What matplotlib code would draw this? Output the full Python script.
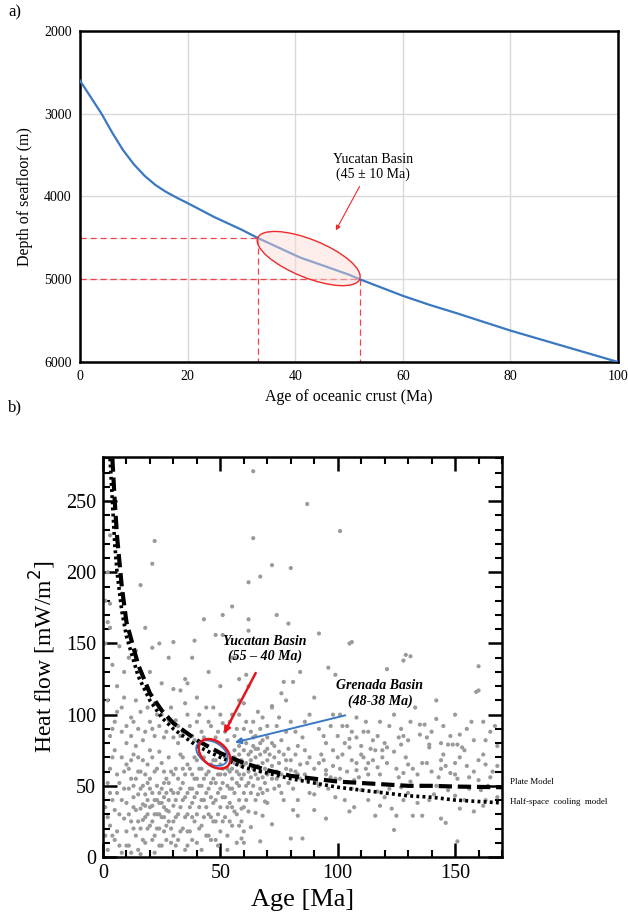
import numpy as np
import matplotlib
matplotlib.use("Agg")
import matplotlib.pyplot as plt
from matplotlib.patches import Ellipse
from matplotlib.transforms import ScaledTranslation
from matplotlib.ticker import MultipleLocator

plt.rcParams['font.family'] = ['Liberation Serif', 'DejaVu Serif']

# ---- panel a: depth vs age ----
depth_age = [0, 2, 4, 6, 8, 10, 12, 14, 16, 18, 20, 25, 30, 33, 37, 41, 45, 50, 52, 56, 60,
             65, 70, 80, 90, 100]
depth_m = [2600, 2800, 3000, 3230, 3440, 3610, 3750, 3860, 3945, 4015, 4080, 4250, 4400, 4500,
           4620, 4740, 4830, 4945, 5000, 5100, 5200, 5310, 5410, 5620, 5810, 6000]
yuc_age = [33, 52]
yuc_depth = [4500, 5000]

# ---- panel b: heat flow vs age ----
hsc_age = [3, 4, 5, 6, 8, 10, 15, 20, 25, 30, 40, 50, 60, 70, 80, 90, 100, 110, 120, 130, 140, 150, 160, 170]
hsc_q = [280, 250, 220, 200, 173, 155, 127, 110, 98, 90, 78, 70, 63, 59, 55, 52, 49, 47, 45, 43, 42, 40, 39, 38]
plate_age = [4, 5, 6, 8, 10, 15, 20, 25, 30, 40, 50, 60, 70, 80, 90, 100, 110, 120, 130, 140, 150, 170]
plate_q = [280, 250, 225, 190, 165, 135, 115, 103, 94, 82, 73, 66, 61, 57, 55, 53, 52, 51, 50, 50, 49.5, 49]

pts_low = [(2, 5), (3, 22), (4, 40), (5, 12), (6, 58), (7, 30), (8, 3), (8, 70), (9, 48), (10, 18),
           (3, 62), (5, 75), (1, 35), (7, 8), (9, 27), (6, 45), (2, 52), (4, 15), (10, 65), (10, 38),
           (11, 8), (12, 25), (12, 55), (13, 42), (13, 72), (14, 15), (14, 33), (15, 60), (15, 5),
           (16, 48), (16, 20), (17, 37), (17, 68), (18, 28), (18, 10), (19, 52), (19, 40), (20, 22),
           (20, 75), (11, 62), (12, 3), (14, 78), (18, 58), (20, 35), (16, 2), (21, 12), (21, 45),
           (22, 30), (22, 60), (23, 20), (23, 50), (24, 38), (24, 8), (25, 28), (25, 66), (26, 42),
           (26, 18), (27, 55), (27, 33), (28, 25), (28, 70), (29, 10), (29, 47), (30, 36), (30, 58),
           (22, 3), (24, 74), (26, 52), (28, 40), (30, 15), (23, 40), (25, 48), (27, 22), (19, 30),
           (21, 36), (17, 26), (15, 44), (13, 50), (24, 30), (26, 35), (20, 48), (18, 44), (16, 34)]
pts_mid = [(31, 28), (31, 62), (32, 45), (32, 12), (33, 35), (33, 72), (34, 20), (34, 52), (35, 42),
           (35, 5), (36, 65), (36, 30), (37, 48), (37, 18), (38, 58), (38, 38), (39, 25), (39, 70),
           (40, 45), (40, 10), (32, 80), (34, 62), (36, 8), (38, 28), (40, 55), (41, 35), (41, 62),
           (42, 22), (42, 50), (43, 70), (43, 40), (44, 15), (44, 58), (45, 30), (45, 48), (46, 65),
           (46, 12), (47, 38), (47, 55), (48, 25), (48, 68), (49, 45), (49, 8), (50, 35), (50, 58),
           (42, 5), (44, 78), (46, 28), (48, 52), (50, 18), (51, 42), (51, 62), (52, 28), (52, 70),
           (53, 50), (53, 15), (54, 38), (54, 60), (55, 22), (55, 48), (56, 66), (56, 32), (57, 52),
           (57, 10), (58, 40), (58, 58), (59, 25), (59, 68), (60, 45), (60, 18), (53, 5), (56, 75)]
pts_high = [(3, 85), (5, 95), (2, 110), (6, 120), (4, 135), (8, 88), (8, 105), (10, 92), (12, 98),
            (12, 85), (14, 110), (15, 90), (16, 102), (18, 88), (18, 118), (20, 95), (22, 85),
            (22, 108), (24, 92), (25, 100), (27, 88), (28, 96), (30, 84), (32, 92), (34, 88),
            (36, 100), (38, 85), (40, 95), (42, 88), (44, 105), (46, 92), (48, 84), (50, 100),
            (52, 88), (54, 95), (56, 85), (58, 110), (60, 90), (9, 130), (11, 140), (20, 130),
            (25, 122), (30, 118), (35, 125), (40, 112), (45, 130), (50, 120), (55, 140), (58, 125),
            (38, 140), (7, 148), (14, 145), (28, 140), (33, 117), (36, 122),
            (1, 180), (2, 200), (1, 150), (2, 165), (3, 161), (3, 178), (3, 226), (8, 185),
            (56, 140), (61, 128), (62, 120), (66, 102), (68, 98), (70, 92), (72, 106), (75, 98),
            (63, 88), (65, 85), (68, 82), (72, 80), (78, 88), (80, 95), (85, 84), (88, 100),
            (92, 90), (95, 80), (98, 100), (100, 85), (102, 92), (106, 88), (110, 78), (112, 95),
            (115, 82), (60, 108), (58, 100), (64, 95), (76, 115), (84, 130), (90, 112),
            (77, 123), (81, 123), (78, 110), (72, 105), (99, 128), (105, 150)]
pts_outlier = [(64, 271), (87, 248), (101, 229), (22, 222), (64, 224), (21, 206), (72, 205),
               (80, 203), (67, 197), (62, 193), (16, 191), (55, 176), (51, 170), (74, 170),
               (43, 167), (62, 167), (79, 164), (18, 161), (62, 159), (92, 157), (48, 156),
               (51, 156), (106, 151), (39, 152), (30, 151), (24, 150), (21, 147),
               (129, 142), (131, 141), (128, 138), (160, 134), (96, 133), (121, 132), (160, 117)]
pts_dense = [(55, 62), (56, 70), (57, 60), (58, 72), (59, 64), (60, 58), (60, 75), (61, 66), (62, 60),
             (62, 72), (63, 56), (63, 68), (64, 62), (64, 78), (65, 58), (65, 70), (66, 64), (66, 76),
             (67, 60), (67, 72), (68, 66), (68, 56), (69, 74), (69, 62), (70, 68), (70, 58), (71, 72),
             (72, 64), (72, 55), (73, 70), (74, 60), (75, 66), (76, 58), (77, 72), (78, 62), (80, 68),
             (82, 60), (84, 65), (86, 58), (88, 70), (90, 62), (92, 66), (95, 58), (98, 64), (100, 70),
             (104, 60), (108, 66), (112, 62), (115, 68), (59, 34), (63, 21), (59, 13), (60, 10),
             (67, 11), (72, 23), (65, 31), (68, 29), (69, 39), (66, 44), (70, 47), (75, 50), (77, 40),
             (80, 13), (81, 33), (83, 29), (83, 40), (85, 13), (90, 33), (90, 44), (95, 27), (99, 42),
             (103, 40), (105, 32), (107, 35), (107, 54), (110, 47), (113, 40), (99, 55), (95, 61),
             (91, 52), (87, 54), (83, 58), (80, 61), (78, 68), (82, 72), (86, 75), (93, 72), (98, 75),
             (102, 72), (105, 77), (111, 70), (108, 61), (113, 58)]
pts_old = [(116, 75), (139, 77), (144, 68), (144, 62), (152, 70), (162, 72), (163, 65), (166, 60),
           (117, 63), (125, 62), (128, 59), (132, 62), (136, 66), (140, 60), (148, 59), (151, 55),
           (156, 56), (160, 54), (117, 46), (122, 48), (127, 49), (131, 53), (136, 50), (142, 50),
           (147, 47), (156, 48), (161, 47), (164, 50), (118, 36), (123, 34), (128, 40), (132, 29),
           (136, 29), (139, 40), (144, 27), (146, 24), (152, 34), (158, 32), (116, 29), (125, 29),
           (124, 19), (151, 11), (163, 40), (142, 97), (135, 93), (137, 93), (128, 85), (135, 86),
           (127, 79), (139, 79), (147, 79), (151, 79), (121, 77), (101, 100), (104, 92), (108, 98),
           (113, 88), (118, 95), (120, 80), (124, 100), (127, 90), (130, 82), (133, 105), (140, 88),
           (142, 110), (145, 92), (148, 85), (150, 100), (155, 90), (158, 82), (162, 95), (165, 88),
           (168, 78), (110, 72), (114, 76), (119, 70), (124, 74), (129, 70), (145, 72), (150, 66),
           (154, 75), (160, 68), (105, 83), (119, 75), (149, 79), (153, 77), (159, 116)]
pts_extra = [(1, 15), (2, 28), (3, 45), (4, 70), (5, 33), (6, 18), (7, 52), (8, 40), (9, 60), (10, 8),
             (11, 30), (11, 48), (12, 68), (13, 20), (13, 35), (14, 55), (15, 25), (15, 70), (16, 60),
             (17, 12), (17, 50), (18, 36), (19, 20), (19, 65), (20, 55), (21, 25), (21, 70), (22, 40),
             (22, 15), (23, 30), (23, 62), (24, 45), (24, 20), (25, 38), (25, 8), (26, 60), (26, 28),
             (27, 45), (27, 12), (28, 52), (28, 32), (29, 20), (29, 60), (30, 45), (30, 25), (31, 40),
             (31, 8), (32, 55), (32, 30), (33, 18), (33, 48), (34, 40), (34, 70), (35, 28), (35, 58),
             (36, 45), (36, 18), (37, 35), (37, 62), (38, 48), (38, 12), (39, 42), (39, 55), (40, 30),
             (40, 68), (41, 50), (41, 20), (42, 40), (42, 62), (43, 28), (43, 55), (44, 45), (44, 35),
             (45, 60), (45, 15), (46, 42), (46, 52), (47, 25), (47, 68), (48, 40), (48, 12), (49, 58),
             (49, 30), (50, 48), (50, 65), (51, 25), (51, 52), (52, 42), (52, 58), (53, 35), (53, 62),
             (54, 48), (54, 25), (55, 55), (55, 35), (56, 45), (57, 30), (57, 65), (58, 50), (58, 22),
             (59, 55), (60, 35), (60, 65), (61, 50), (61, 40), (62, 52), (62, 32), (63, 45), (64, 50),
             (65, 40), (66, 55), (67, 48), (68, 45), (69, 52), (70, 38), (71, 60), (73, 48), (74, 55),
             (76, 45), (79, 52), (81, 48), (84, 55), (88, 45), (92, 50), (96, 48), (101, 55), (106, 48),
             (4, 90), (6, 102), (9, 112), (10, 80), (13, 95), (17, 82), (19, 105), (21, 90), (23, 100),
             (26, 84), (29, 105), (31, 96), (33, 85), (35, 108), (37, 92), (39, 82), (41, 100), (43, 84),
             (45, 95), (47, 105), (49, 88), (51, 94), (53, 82), (55, 100), (57, 90), (59, 82),
             (61, 95), (64, 84), (67, 90), (70, 84), (74, 92), (76, 82), (82, 88), (86, 95), (94, 85),
             (97, 92), (103, 80), (108, 84), (111, 88), (117, 85), (122, 92), (126, 84), (131, 95),
             (138, 84), (144, 80), (152, 86), (157, 95), (163, 82), (167, 92),
             (58, 78), (61, 80), (63, 74), (65, 76), (67, 80), (70, 76), (73, 78), (75, 74), (79, 76),
             (83, 78), (87, 66), (94, 68), (97, 56), (101, 62), (106, 68), (109, 56), (113, 66),
             (118, 58), (121, 66), (126, 56), (130, 65), (134, 58), (138, 66), (143, 56), (146, 64),
             (150, 58), (155, 64), (158, 60), (165, 56), (168, 64),
             (120, 42), (130, 45), (134, 38), (141, 44), (150, 43), (154, 40), (162, 36), (168, 42)]

fig = plt.figure(figsize=(6.28, 9.24), dpi=100)

# ================= a) =================
ax1 = fig.add_axes([0.1274, 0.6082, 0.8567, 0.3583])
ax1.plot(depth_age, depth_m, color='#3a78c2', lw=1.6, zorder=3)
red = '#f0454f'
ax1.plot([0, yuc_age[0]], [yuc_depth[0]] * 2, color=red, ls=(0, (5, 3)), lw=0.9, zorder=2)
ax1.plot([0, yuc_age[1]], [yuc_depth[1]] * 2, color=red, ls=(0, (5, 3)), lw=0.9, zorder=2)
ax1.plot([yuc_age[0]] * 2, [yuc_depth[0], 6000], color=red, ls=(0, (5, 3)), lw=0.9, zorder=2)
ax1.plot([yuc_age[1]] * 2, [yuc_depth[1], 6000], color=red, ls=(0, (5, 3)), lw=0.9, zorder=2)
cx = (yuc_age[0] + yuc_age[1]) / 2
cy = (yuc_depth[0] + yuc_depth[1]) / 2
ell = Ellipse((0, 0), 1.10, 0.38, angle=-22, facecolor='#fbd9d4', alpha=0.45,
              edgecolor='none', zorder=4,
              transform=fig.dpi_scale_trans + ScaledTranslation(cx, cy, ax1.transData))
ax1.add_patch(ell)
ell2 = Ellipse((0, 0), 1.10, 0.38, angle=-22, facecolor='none', edgecolor='#ee2b2b', lw=1.0,
               zorder=5, transform=fig.dpi_scale_trans + ScaledTranslation(cx, cy, ax1.transData))
ax1.add_patch(ell2)
ax1.annotate('', xy=(47.3, 4440), xytext=(52.2, 3850),
             arrowprops=dict(arrowstyle='-|>', color='#ee2b2b', lw=0.8, mutation_scale=7))
ax1.text(54.5, 3640, 'Yucatan Basin\n(45 \u00b1 10 Ma)', ha='center', va='center',
         fontsize=10, linespacing=1.15)
ax1.set_xlim(0, 100)
ax1.set_ylim(6000, 2000)
ax1.set_xticks([0, 20, 40, 60, 80, 100])
ax1.set_yticks([2000, 3000, 4000, 5000, 6000])
ax1.grid(True, color='#d9d9d9', lw=1.0)
ax1.set_axisbelow(True)
ax1.tick_params(length=0, labelsize=10, pad=6)
for s in ax1.spines.values():
    s.set_linewidth(1.8)
ax1.set_xlabel('Age of oceanic crust (Ma)', fontsize=11.5, labelpad=4)
ax1.set_ylabel('Depth of seafloor (m)', fontsize=11.5, labelpad=8)
fig.text(0.013, 0.987, 'a)', fontsize=12, va='center', ha='left')

# ================= b) =================
ax2 = fig.add_axes([0.164, 0.0725, 0.6354, 0.4329])
all_pts = pts_low + pts_mid + pts_high + pts_outlier + pts_dense + pts_old + pts_extra
sa = [p[0] for p in all_pts]
sq = [p[1] for p in all_pts]
ax2.scatter(sa, sq, s=9, color='#9a9a9a', edgecolors='none', zorder=2)
ax2.plot(plate_age, plate_q, color='black', lw=3.0, ls=(0, (3.2, 1.4)), zorder=3)
ax2.plot(hsc_age, hsc_q, color='black', lw=2.6, ls=(0, (0.8, 0.9)), zorder=3)

ell_b = Ellipse((0, 0), 0.34, 0.22, angle=-30, facecolor='none', edgecolor='#3a78c2', lw=1.3,
                zorder=5, transform=fig.dpi_scale_trans + ScaledTranslation(46.4, 73, ax2.transData))
ax2.add_patch(ell_b)
ell_r = Ellipse((0, 0), 0.36, 0.24, angle=-40, facecolor='none', edgecolor='#e8141c', lw=1.8,
                zorder=6, transform=fig.dpi_scale_trans + ScaledTranslation(47.5, 72.5, ax2.transData))
ax2.add_patch(ell_r)
ax2.annotate('', xy=(51, 85), xytext=(65.6, 131),
             arrowprops=dict(arrowstyle='-|>', color='#e8141c', lw=1.8, mutation_scale=9),
             zorder=7)
ax2.annotate('', xy=(55, 80), xytext=(104.4, 100),
             arrowprops=dict(arrowstyle='-|>', color='#3a78c2', lw=1.4, mutation_scale=9),
             zorder=7)
ax2.text(69, 146, 'Yucatan Basin\n(55 \u2013 40 Ma)', ha='center', va='center', fontsize=10,
         fontweight='bold', fontstyle='italic', linespacing=1.2, zorder=8)
ax2.text(118, 115, 'Grenada Basin\n(48-38 Ma)', ha='center', va='center', fontsize=10,
         fontweight='bold', fontstyle='italic', linespacing=1.2, zorder=8)
ax2.text(173.5, 52.5, 'Plate Model', fontsize=6.5, va='center', ha='left', clip_on=False)
ax2.text(173.5, 38.5, 'Half-space  cooling  model', fontsize=6.5, va='center', ha='left',
         clip_on=False)

ax2.set_xlim(0, 170)
ax2.set_ylim(0, 281)
ax2.xaxis.set_major_locator(MultipleLocator(50))
ax2.xaxis.set_minor_locator(MultipleLocator(10))
ax2.yaxis.set_major_locator(MultipleLocator(50))
ax2.yaxis.set_minor_locator(MultipleLocator(10))
ax2.tick_params(which='both', direction='in', top=True, right=True, labelsize=14.5, pad=5)
ax2.tick_params(which='major', length=10, width=1.8)
ax2.tick_params(which='minor', length=5, width=1.5)
for s in ax2.spines.values():
    s.set_linewidth(1.8)
ax2.set_xlabel('Age [Ma]', fontsize=19, labelpad=4)
ax2.set_ylabel('Heat flow [mW/m$^{2}$]', fontsize=17, labelpad=6)
fig.text(0.013, 0.5595, 'b)', fontsize=12, va='center', ha='left')

fig.savefig('out.png', dpi=100)
